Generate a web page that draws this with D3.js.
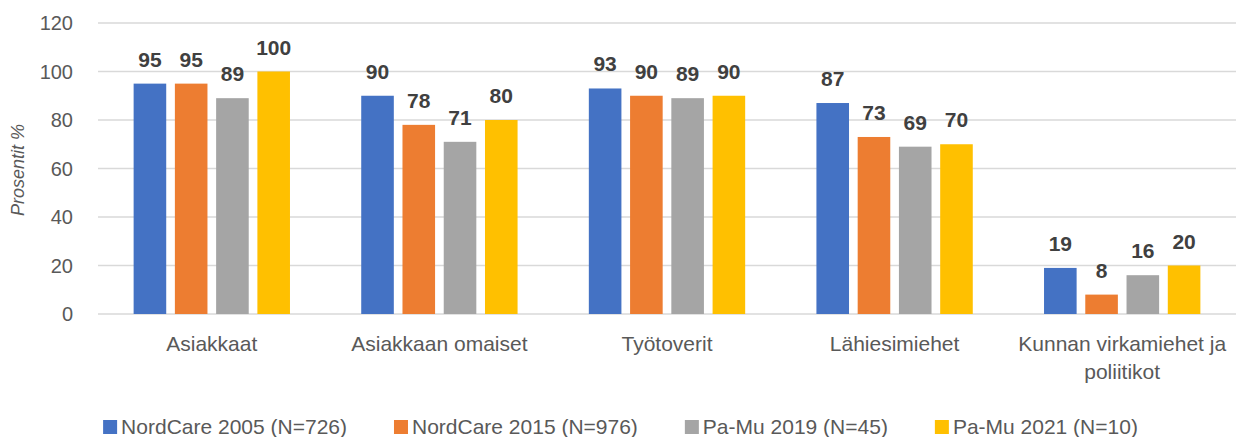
<!DOCTYPE html>
<html>
<head>
<meta charset="utf-8">
<script src="https://cdn.jsdelivr.net/npm/d3@7"></script>
<style>
  body { margin: 0; background: #fff; }
  text { font-family: "Liberation Sans", Arial, sans-serif; }
</style>
</head>
<body>
<div class="chart"></div>
<script>
"use strict";

const categories = [
  ["Asiakkaat"],
  ["Asiakkaan omaiset"],
  ["Työtoverit"],
  ["Lähiesimiehet"],
  ["Kunnan virkamiehet ja", "poliitikot"]
];
const seriesNames = [
  "NordCare 2005 (N=726)",
  "NordCare 2015 (N=976)",
  "Pa-Mu 2019 (N=45)",
  "Pa-Mu 2021 (N=10)"
];
const nordcare2005 = [95, 90, 93, 87, 19];
const nordcare2015 = [95, 78, 90, 73, 8];
const pamu2019 = [89, 71, 89, 69, 16];
const pamu2021 = [100, 80, 90, 70, 20];
const yTicks = [0, 20, 40, 60, 80, 100, 120];
const colors = ["#4472C4", "#ED7D31", "#A5A5A5", "#FFC000"];

const series = [nordcare2005, nordcare2015, pamu2019, pamu2021];

const width = 1241;
const height = 437;
const plotLeft = 98;
const plotRight = 1236;
const plotTop = 23;
const plotBottom = 314;

const svg = d3
  .select(".chart")
  .append("svg")
  .attr("width", width)
  .attr("height", height);

const y = d3.scaleLinear().domain([0, 120]).range([plotBottom, plotTop]);

const x0 = d3
  .scaleBand()
  .domain(d3.range(categories.length))
  .range([plotLeft, plotRight])
  .paddingInner(0.275)
  .paddingOuter(0.1375);

const x1 = d3
  .scaleBand()
  .domain(d3.range(series.length))
  .range([0, x0.bandwidth()])
  .paddingInner(0.21)
  .paddingOuter(0.105);

// gridlines
svg
  .selectAll(".grid")
  .data(yTicks)
  .enter()
  .append("line")
  .attr("x1", plotLeft)
  .attr("x2", plotRight)
  .attr("y1", (d) => y(d))
  .attr("y2", (d) => y(d))
  .style("stroke", "#d9d9d9")
  .style("stroke-width", 1.5);

// y tick labels
svg
  .selectAll(".ytick")
  .data(yTicks)
  .enter()
  .append("text")
  .attr("x", 73)
  .attr("y", (d) => y(d) + 7)
  .attr("text-anchor", "end")
  .style("font-size", "20px")
  .style("fill", "#595959")
  .text((d) => d);

// y axis title
svg
  .append("text")
  .attr("transform", "translate(24,170) rotate(-90)")
  .attr("text-anchor", "middle")
  .style("font-size", "18px")
  .style("font-style", "italic")
  .style("fill", "#595959")
  .text("Prosentit %");

// bars + labels
series.forEach((values, s) => {
  const g = svg.append("g");
  g.selectAll("rect")
    .data(values)
    .enter()
    .append("rect")
    .attr("x", (d, i) => x0(i) + x1(s))
    .attr("y", (d) => y(d))
    .attr("width", x1.bandwidth())
    .attr("height", (d) => y(0) - y(d))
    .style("fill", colors[s]);

  g.selectAll("text")
    .data(values)
    .enter()
    .append("text")
    .attr("x", (d, i) => x0(i) + x1(s) + x1.bandwidth() / 2)
    .attr("y", (d) => y(d) - 17)
    .attr("text-anchor", "middle")
    .style("font-size", "21px")
    .style("font-weight", "bold")
    .style("fill", "#404040")
    .text((d) => d);
});

// category labels
categories.forEach((lines, i) => {
  svg
    .append("text")
    .attr("x", x0(i) + x0.bandwidth() / 2)
    .attr("y", 351)
    .attr("text-anchor", "middle")
    .style("font-size", "21px")
    .style("fill", "#595959")
    .selectAll("tspan")
    .data(lines)
    .enter()
    .append("tspan")
    .attr("x", x0(i) + x0.bandwidth() / 2)
    .attr("dy", (d, j) => (j === 0 ? 0 : 28))
    .text((d) => d);
});

// legend
const legend = svg.append("g");
let lx = 0;
seriesNames.forEach((name, s) => {
  const item = legend.append("g").attr("transform", `translate(${lx},0)`);
  item
    .append("rect")
    .attr("x", 0)
    .attr("y", -14)
    .attr("width", 14)
    .attr("height", 14)
    .style("fill", colors[s]);
  const t = item
    .append("text")
    .attr("x", 18)
    .attr("y", 0)
    .style("font-size", "21px")
    .style("fill", "#595959")
    .text(name);
  lx += 18 + t.node().getComputedTextLength() + 47;
});
const legendWidth = lx - 47;
legend.attr("transform", `translate(${(width - legendWidth) / 2},434)`);
</script>
</body>
</html>
